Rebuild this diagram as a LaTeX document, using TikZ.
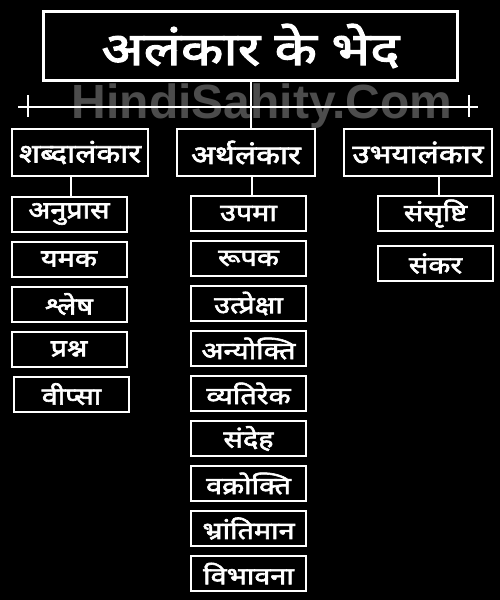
\documentclass[tikz,border=0pt]{standalone}
\usepackage{fontspec}
\newfontfamily\hindi[Script=Devanagari, FakeBold=2.5, FakeStretch=1.2]{Noto Sans}
\newfontfamily\wmfont{Liberation Sans}
\usetikzlibrary{positioning}
\tikzset{
x=1pt, y=-1pt, % pixel-like units, y grows downwards
node distance=10pt, % gap between the stacked leaf boxes
every node/.style={text=white, inner sep=0pt, outer sep=0pt}, % white text on the black ground
titlebox/.style={draw=white, line width=2.5pt, minimum width=414pt, minimum height=69pt, font=\hindi\fontsize{46}{48}\selectfont},
typebox/.style={draw=white, line width=2.5pt, minimum height=47pt, font=\hindi\fontsize{26}{28}\selectfont},
leafbox/.style={draw=white, line width=2pt, minimum width=115pt, minimum height=35pt, font=\hindi\fontsize{24}{26}\selectfont},
link/.style={draw=white, line width=2pt}, % the connecting lines
}
\begin{document}
\begin{tikzpicture}
    \useasboundingbox (0,0) rectangle (500,600);
    \fill[black] (0,0) rectangle (500,600);

    % watermark
    \node[text=white!30!black, font=\wmfont\bfseries\fontsize{48}{48}\selectfont] (wm) at (262,106) {HindiSahity.Com};

    \node[titlebox] (title) at (250.5,46) {अलंकार के भेद};

    \node[typebox, minimum width=136pt] (shabd) at (80,152.5) {शब्दालंकार};
    \node[typebox, minimum width=138pt] (artha) at (246,152.5) {अर्थलंकार};
    \node[typebox, minimum width=148pt] (ubhay) at (418,152.5) {उभयालंकार};

    % left column
    \node[leafbox] (anupras) at (69,214) {अनुप्रास};
    \node[leafbox, below=of anupras] (yamak) {यमक};
    \node[leafbox, below=of yamak] (shlesh) {श्लेष};
    \node[leafbox, below=of shlesh] (prashn) {प्रश्न};
    \node[leafbox, below=of prashn, xshift=2.5pt] (vipsa) {वीप्सा};

    % middle column
    \node[leafbox] (upama) at (248.5,213.5) {उपमा};
    \node[leafbox, below=of upama] (rupak) {रूपक};
    \node[leafbox, below=of rupak] (utpreksha) {उत्प्रेक्षा};
    \node[leafbox, below=of utpreksha] (anyokti) {अन्योक्ति};
    \node[leafbox, below=of anyokti] (vyatirek) {व्यतिरेक};
    \node[leafbox, below=of vyatirek] (sandeh) {संदेह};
    \node[leafbox, below=of sandeh] (vakrokti) {वक्रोक्ति};
    \node[leafbox, below=of vakrokti] (bhrantiman) {भ्रांतिमान};
    \node[leafbox, below=of bhrantiman] (vibhavana) {विभावना};

    % right column
    \node[leafbox] (sansrishti) at (435.5,213.5) {संसृष्टि};
    \node[leafbox, below=15pt of sansrishti] (sankar) {संकर};

    % the cross bar with its two ticks
    \coordinate (barl) at (18,107);
    \coordinate (barr) at (478,107);
    \coordinate (ticklt) at (28,95);
    \coordinate (ticklb) at (28,117);
    \coordinate (tickrt) at (469,95);
    \coordinate (tickrb) at (469,117);
    \draw[link] (barl) -- (barr);
    \draw[link] (ticklt) -- (ticklb);
    \draw[link] (tickrt) -- (tickrb);

    \draw[link] (title.south) -- (title.south |- artha.north);
    \draw[link] ([xshift=2pt]anupras.north) -- ([xshift=2pt]anupras.north |- shabd.south);
    \draw[link] ([xshift=3.5pt]upama.north) -- ([xshift=3.5pt]upama.north |- artha.south);
    \draw[link] ([xshift=3.5pt]sansrishti.north) -- ([xshift=3.5pt]sansrishti.north |- ubhay.south);
\end{tikzpicture}
\end{document}
